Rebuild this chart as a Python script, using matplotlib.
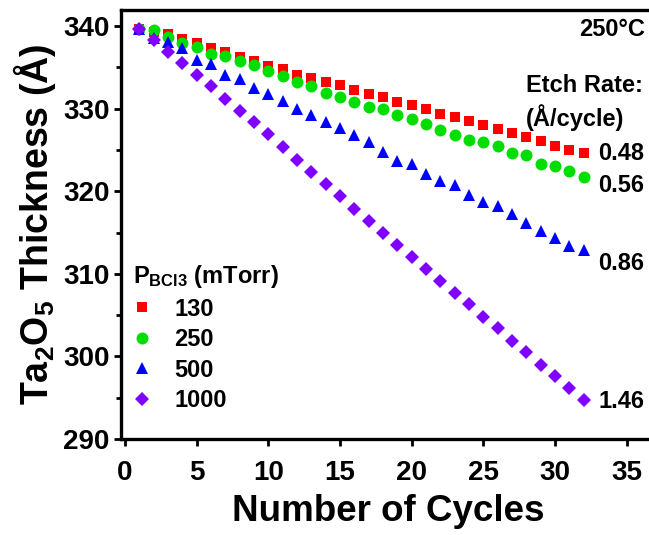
import matplotlib
matplotlib.use("Agg")
import matplotlib.pyplot as plt
import numpy as np

plt.rcParams['font.family'] = ['Liberation Sans', 'DejaVu Sans']
plt.rcParams['font.weight'] = 'bold'
plt.rcParams['mathtext.fontset'] = 'custom'
plt.rcParams['mathtext.rm'] = 'Liberation Sans:bold'
plt.rcParams['mathtext.bf'] = 'Liberation Sans:bold'
plt.rcParams['mathtext.it'] = 'Liberation Sans:bold'

cycles = list(range(1, 33))
p130 = [339.7, 339.3, 339.0, 338.4, 337.9, 337.3, 336.8, 336.2, 335.8, 335.1,
        334.75, 334.1, 333.7, 333.25, 332.8, 332.2, 331.8, 331.4, 330.8, 330.4,
        329.9, 329.4, 329.0, 328.5, 328.0, 327.5, 327.1, 326.6, 326.1, 325.45,
        325.05, 324.65]
p250 = [339.7, 339.5, 338.7, 337.9, 337.4, 336.6, 336.4, 335.8, 335.3, 334.5,
        333.9, 333.2, 332.7, 331.85, 331.4, 330.8, 330.2, 329.9, 329.2, 328.7,
        328.15, 327.4, 326.8, 326.25, 325.95, 325.45, 324.65, 324.4, 323.35, 323.0,
        322.5, 321.7]
p500 = [339.7, 338.5, 338.1, 337.3, 335.9, 335.35, 334.1, 333.6, 332.5, 331.8,
        330.9, 330.0, 329.2, 328.35, 327.7, 326.8, 325.9, 324.8, 323.7, 323.25,
        322.1, 321.2, 320.7, 319.5, 318.7, 318.2, 317.3, 316.2, 315.2, 314.3,
        313.4, 312.9]
p1000 = [339.6, 338.3, 336.9, 335.5, 334.1, 332.7, 331.2, 329.7, 328.4, 326.9,
         325.4, 323.8, 322.3, 320.9, 319.4, 317.9, 316.45, 314.95, 313.45, 312.0,
         310.6, 309.15, 307.7, 306.3, 304.8, 303.4, 301.9, 300.5, 299.0, 297.6,
         296.2, 294.75]
series_labels = ['130', '250', '500', '1000']
etch_rates = ['0.48', '0.56', '0.86', '1.46']
x_ticks = [0, 5, 10, 15, 20, 25, 30, 35]
y_ticks = [290, 300, 310, 320, 330, 340]

W, H = 649, 535
fig = plt.figure(figsize=(W / 100, H / 100), dpi=100)
ax = fig.add_axes([120.7 / W, 1 - 439 / H, (W - 120.7) / W + 0.01, (439 - 10) / H])

styles = [('s', '#ff0000', 7.6), ('o', '#00dd00', 8.6), ('^', '#0000ff', 8.6), ('D', '#8000ff', 7.2)]
data = [p130, p250, p500, p1000]
handles = []
for vals, (m, c, ms), lab in zip(data, styles, series_labels):
    h, = ax.plot(cycles, vals, linestyle='none', marker=m, color=c, markersize=ms,
                 markeredgewidth=0, label=lab)
    handles.append(h)

ax.set_xlim(-0.3, 36.57 + 0.01 * W / 14.33)
ax.set_ylim(290, 341.94)
ax.set_xticks(x_ticks)
ax.set_yticks(y_ticks)
ax.set_yticks([295, 305, 315, 325, 335], minor=True)
ax.tick_params(axis='both', which='major', direction='out', length=5, width=2, labelsize=20)
ax.tick_params(axis='y', which='minor', direction='out', length=3.5, width=2)
ax.tick_params(axis='y', which='major', pad=3)
ax.tick_params(axis='x', which='major', pad=10)
for s in ['left', 'bottom', 'top']:
    ax.spines[s].set_linewidth(2.4)
ax.spines['right'].set_visible(False)

ax.set_xlabel('Number of Cycles', fontsize=26.5, fontweight='bold', labelpad=6)
ax.set_ylabel(r'Ta$_{2}$O$_{5}$ Thickness (Å)', fontsize=27, fontweight='bold', labelpad=4)

leg = ax.legend(handles=handles, labels=series_labels, title=r'P$_{BCl3}$ (mTorr)',
                loc='upper left', bbox_to_anchor=(133 / W, 1 - 263 / H),
                bbox_transform=fig.transFigure, frameon=False, fontsize=17,
                title_fontsize=17, borderpad=0, borderaxespad=0, handlelength=0.75,
                handletextpad=1.0, labelspacing=0.32, alignment='left')

# annotations
ax.text(645 / W, 1 - 29 / H, '250°C', transform=fig.transFigure, ha='right', va='center',
        fontsize=17, fontweight='bold')
ax.text(526 / W, 1 - 86 / H, 'Etch Rate:', transform=fig.transFigure, ha='left', va='center',
        fontsize=17, fontweight='bold')
ax.text(526 / W, 1 - 118 / H, '(Å/cycle)', transform=fig.transFigure, ha='left', va='center',
        fontsize=17, fontweight='bold')
rate_y = [154, 186, 263, 402]
for r, py in zip(etch_rates, rate_y):
    ax.text(598 / W, 1 - py / H, r, transform=fig.transFigure, ha='left', va='center',
            fontsize=17, fontweight='bold')

fig.savefig('out.png', dpi=100)
